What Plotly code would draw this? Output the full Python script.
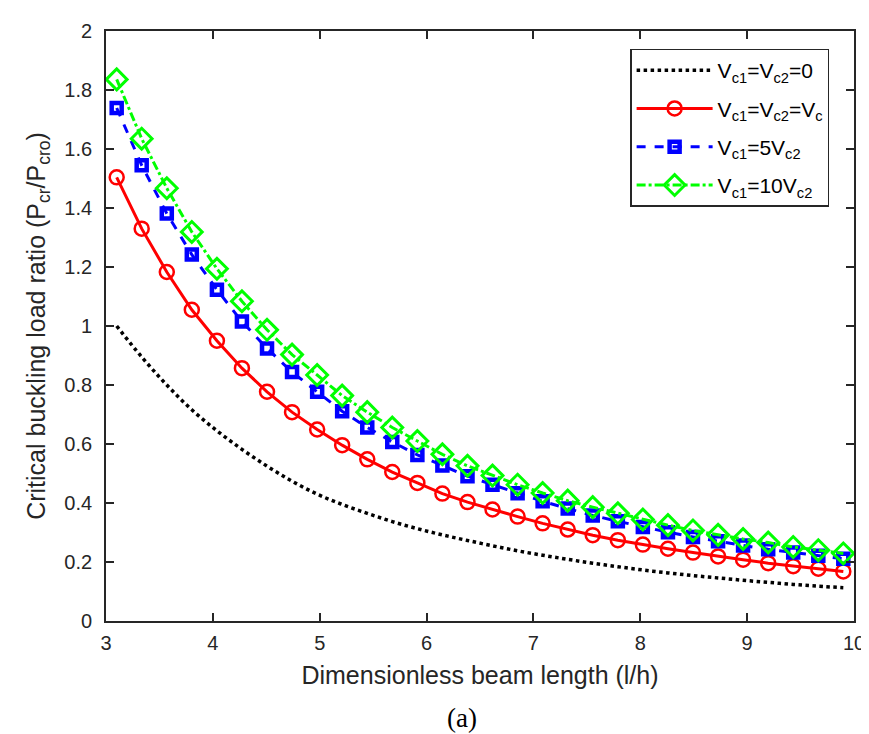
import plotly.graph_objects as go

x_vals = [3.100, 3.334, 3.569, 3.803, 4.038, 4.272, 4.507, 4.741, 4.976, 5.210,
          5.445, 5.679, 5.914, 6.148, 6.383, 6.617, 6.852, 7.086, 7.321, 7.555,
          7.790, 8.024, 8.259, 8.493, 8.728, 8.962, 9.197, 9.431, 9.666, 9.900]

y_zero = [1.000, 0.895, 0.800, 0.716, 0.645, 0.582, 0.525, 0.474, 0.430, 0.395,
          0.365, 0.337, 0.313, 0.292, 0.273, 0.255, 0.238, 0.223, 0.209, 0.196,
          0.184, 0.173, 0.163, 0.154, 0.146, 0.138, 0.131, 0.124, 0.118, 0.113]

y_equal = [1.504, 1.330, 1.183, 1.055, 0.950, 0.857, 0.777, 0.708, 0.649, 0.596,
           0.548, 0.505, 0.468, 0.432, 0.403, 0.378, 0.354, 0.331, 0.310, 0.291,
           0.274, 0.259, 0.245, 0.232, 0.219, 0.208, 0.196, 0.186, 0.177, 0.168]

y_five = [1.739, 1.545, 1.381, 1.242, 1.123, 1.015, 0.924, 0.844, 0.777, 0.711,
          0.656, 0.607, 0.563, 0.527, 0.491, 0.462, 0.433, 0.406, 0.381, 0.358,
          0.338, 0.319, 0.301, 0.285, 0.270, 0.256, 0.243, 0.232, 0.221, 0.211]

y_ten = [1.836, 1.635, 1.467, 1.319, 1.194, 1.084, 0.987, 0.903, 0.834, 0.764,
         0.708, 0.656, 0.610, 0.565, 0.526, 0.493, 0.462, 0.434, 0.408, 0.386,
         0.365, 0.344, 0.325, 0.307, 0.292, 0.278, 0.266, 0.251, 0.240, 0.229]

names = ["V<sub>c1</sub>=V<sub>c2</sub>=0",
         "V<sub>c1</sub>=V<sub>c2</sub>=V<sub>c</sub>",
         "V<sub>c1</sub>=5V<sub>c2</sub>",
         "V<sub>c1</sub>=10V<sub>c2</sub>"]

x_ticks = [3, 4, 5, 6, 7, 8, 9, 10]
y_ticks = [0, 0.2, 0.4, 0.6, 0.8, 1, 1.2, 1.4, 1.6, 1.8, 2]
y_tick_text = ["0", "0.2", "0.4", "0.6", "0.8", "1", "1.2", "1.4", "1.6", "1.8", "2"]

SANS = "Liberation Sans, Arial"
AX = "#262626"

fig = go.Figure()
fig.add_trace(go.Scatter(x=x_vals, y=y_zero, mode="lines", name=names[0], legendgroup="g0",
                         line=dict(color="#000000", width=3.5, dash="dot", shape="spline")))
fig.add_trace(go.Scatter(x=x_vals, y=y_equal, mode="lines+markers", name=names[1], legendgroup="g1",
                         line=dict(color="#FF0000", width=3),
                         marker=dict(symbol="circle-open", size=14, color="#FF0000",
                                     line=dict(width=2.5, color="#FF0000"))))
fig.add_trace(go.Scatter(x=x_vals, y=y_five, mode="lines+markers", name=names[2], legendgroup="g2",
                         line=dict(color="#0000FF", width=3, dash="dash"),
                         marker=dict(symbol="square-open", size=10, color="#0000FF",
                                     line=dict(width=4.5, color="#0000FF"))))
fig.add_trace(go.Scatter(x=x_vals, y=y_ten, mode="lines+markers", name=names[3], legendgroup="g3",
                         line=dict(color="#00FF00", width=3, dash="dashdot"),
                         marker=dict(symbol="diamond-open", size=16, color="#00FF00",
                                     line=dict(width=3, color="#00FF00"))))

axis_common = dict(showgrid=False, zeroline=False, showline=True, linecolor=AX,
                   linewidth=1.8, mirror="ticks", ticks="inside", ticklen=8,
                   tickcolor=AX, tickwidth=1.5,
                   tickfont=dict(family=SANS, size=20, color=AX))

fig.update_xaxes(range=[3, 10], tickvals=x_ticks, ticklabelstandoff=3,
                 title=dict(text="Dimensionless beam length (l/h)", standoff=14,
                            font=dict(family=SANS, size=25, color=AX)),
                 **axis_common)
fig.update_yaxes(range=[0, 2], tickvals=y_ticks, ticktext=y_tick_text, ticklabelstandoff=8,
                 title=dict(text="Critical buckling load ratio (P<sub>cr</sub>/P<sub>cro</sub>)",
                            standoff=12,
                            font=dict(family=SANS, size=25, color=AX)),
                 **axis_common)

fig.add_annotation(text="(a)", xref="paper", yref="paper", x=0.4756, y=-0.164,
                   xanchor="center", yanchor="middle", showarrow=False,
                   font=dict(family="Liberation Serif, Times New Roman", size=27, color="#000000"))

fig.update_layout(
    width=869, height=734,
    margin=dict(l=98, r=14, t=15, b=121),
    paper_bgcolor="white", plot_bgcolor="white",
    legend=dict(x=0.967, y=0.97, xanchor="right", yanchor="top",
                bgcolor="white", bordercolor=AX, borderwidth=1.3,
                font=dict(family=SANS, size=21, color="#000000"),
                traceorder="grouped", tracegroupgap=8, itemwidth=76),
    showlegend=True,
)

fig.write_html("out.html")
